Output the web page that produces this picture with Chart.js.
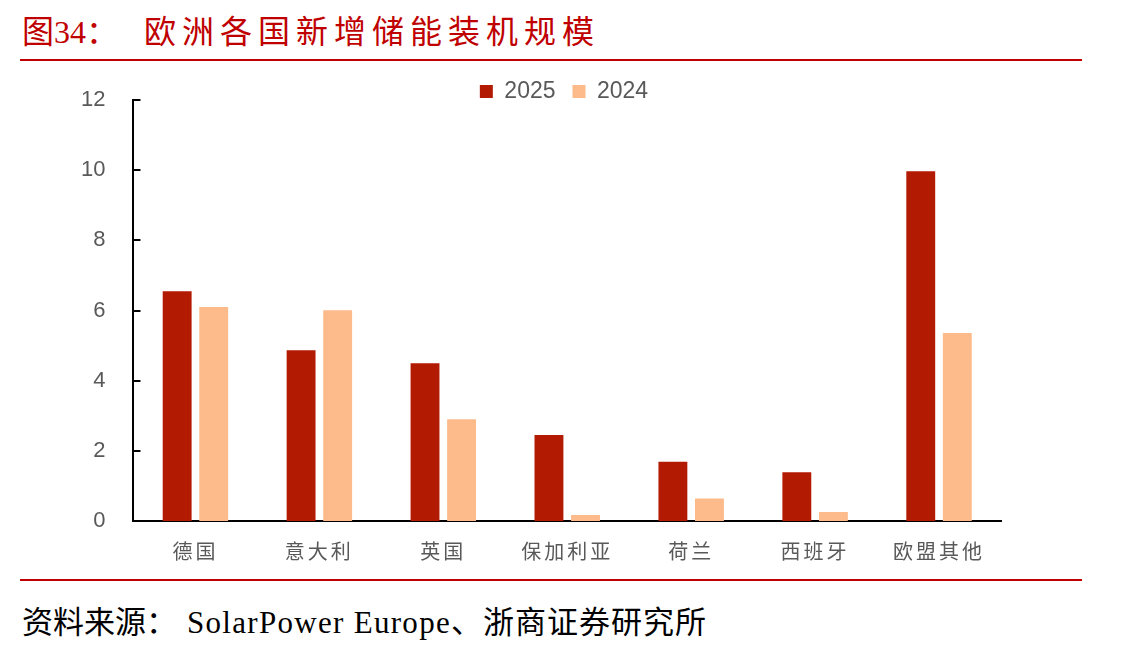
<!DOCTYPE html>
<html lang="zh">
<head>
  <meta charset="UTF-8">
  <title>欧洲各国新增储能装机规模</title>
  <script src="https://cdn.jsdelivr.net/npm/chart.js"></script>
  <style>
    body { margin: 0; background: #fff; width: 1140px; height: 649px; position: relative; overflow: hidden; }
    .title { position: absolute; left: 22px; top: 6px; font: 32px "Liberation Serif", "Noto Sans CJK SC", serif; color: #C00000; white-space: nowrap; }
    .title .txt { margin-left: 26px; letter-spacing: 6px; }
    .rule { position: absolute; left: 20px; width: 1062px; height: 2px; background: #C00000; }
    .source { position: absolute; left: 22px; top: 597px; font: 31px "Liberation Serif", "Noto Sans CJK SC", serif; color: #000; white-space: nowrap; }
    .source .en { margin-left: 10px; letter-spacing: 1.3px; }
    .source .cn { letter-spacing: 1px; }
    .chart-box { position: absolute; left: 0; top: 65px; width: 1140px; height: 508px; }
    #chart { display: block; }
  </style>
</head>
<body>
  <div class="title">图34：<span class="txt">欧洲各国新增储能装机规模</span></div>
  <div class="rule" style="top:59px"></div>

  <div class="chart-box"><canvas id="chart" width="1140" height="508"></canvas></div>

  <div class="rule" style="top:579px"></div>
  <div class="source">资料来源：<span class="en">SolarPower Europe</span><span class="cn">、浙商证券研究所</span></div>

<script>
const categories = ['德国', '意大利', '英国', '保加利亚', '荷兰', '西班牙', '欧盟其他'];
const seriesNames = ['2025', '2024'];
const values2025 = [6.55, 4.87, 4.5, 2.45, 1.69, 1.39, 9.97];
const values2024 = [6.1, 6.01, 2.9, 0.17, 0.64, 0.26, 5.36];
const yTicks = [0, 2, 4, 6, 8, 10, 12];

// short tick marks on the inside of the y axis
const innerTicks = {
  id: 'innerTicks',
  afterDraw(chart) {
    const ctx = chart.ctx;
    const y = chart.scales.y;
    ctx.save();
    ctx.strokeStyle = '#000';
    ctx.lineWidth = 2;
    yTicks.forEach(v => {
      const py = Math.round(y.getPixelForValue(v));
      ctx.beginPath();
      ctx.moveTo(y.right, py);
      ctx.lineTo(y.right + 7, py);
      ctx.stroke();
    });
    ctx.restore();
  }
};

// spaced-out category labels (x ticks drawn after datasets, see z below)
const spacedLabels = {
  id: 'spacedLabels',
  afterDatasetsDraw(chart) { chart.ctx.letterSpacing = '3px'; },
  afterDraw(chart) { chart.ctx.letterSpacing = '0px'; }
};

// legend: tighter to the plot and centred over the bars
const SHRINK = 21;
const legendPlace = {
  id: 'legendPlace',
  beforeInit(chart) {
    const fit = chart.legend.fit;
    chart.legend.fit = function () {
      fit.bind(chart.legend)();
      this.height -= SHRINK;
    };
  },
  afterLayout(chart) {
    const lg = chart.legend;
    lg.left += 33;
    lg.right += 33;
    lg.top -= 8;
    lg.bottom += SHRINK - 8; // keep the clip box big enough for the labels
  }
};

new Chart(document.getElementById('chart'), {
  type: 'bar',
  data: {
    labels: categories,
    datasets: [
      { label: seriesNames[0], data: values2025, backgroundColor: '#B31A02' },
      { label: seriesNames[1], data: values2024, backgroundColor: '#FDBA8A' }
    ]
  },
  options: {
    responsive: false,
    animation: false,
    devicePixelRatio: 1,
    categoryPercentage: 0.59,
    barPercentage: 0.79,
    layout: { padding: { left: 61, right: 139, top: 6, bottom: 0 } },
    plugins: {
      tooltip: { enabled: false },
      legend: {
        position: 'top',
        labels: {
          boxWidth: 13, boxHeight: 13, padding: 17,
          color: '#595959',
          font: { family: 'Liberation Sans', size: 23 }
        }
      }
    },
    scales: {
      x: {
        grid: { display: false },
        border: { display: true, color: '#000', width: 2 },
        ticks: {
          z: 1,
          padding: 10,
          color: '#595959',
          font: { family: '"Noto Sans CJK SC"', size: 20 }
        }
      },
      y: {
        min: 0,
        max: 12,
        afterBuildTicks: axis => { axis.ticks = yTicks.map(v => ({ value: v })); },
        grid: { display: false },
        border: { display: true, color: '#000', width: 2 },
        ticks: {
          padding: 20,
          color: '#595959',
          font: { family: 'Liberation Sans', size: 22 }
        }
      }
    }
  },
  plugins: [innerTicks, spacedLabels, legendPlace]
});
</script>
</body>
</html>
